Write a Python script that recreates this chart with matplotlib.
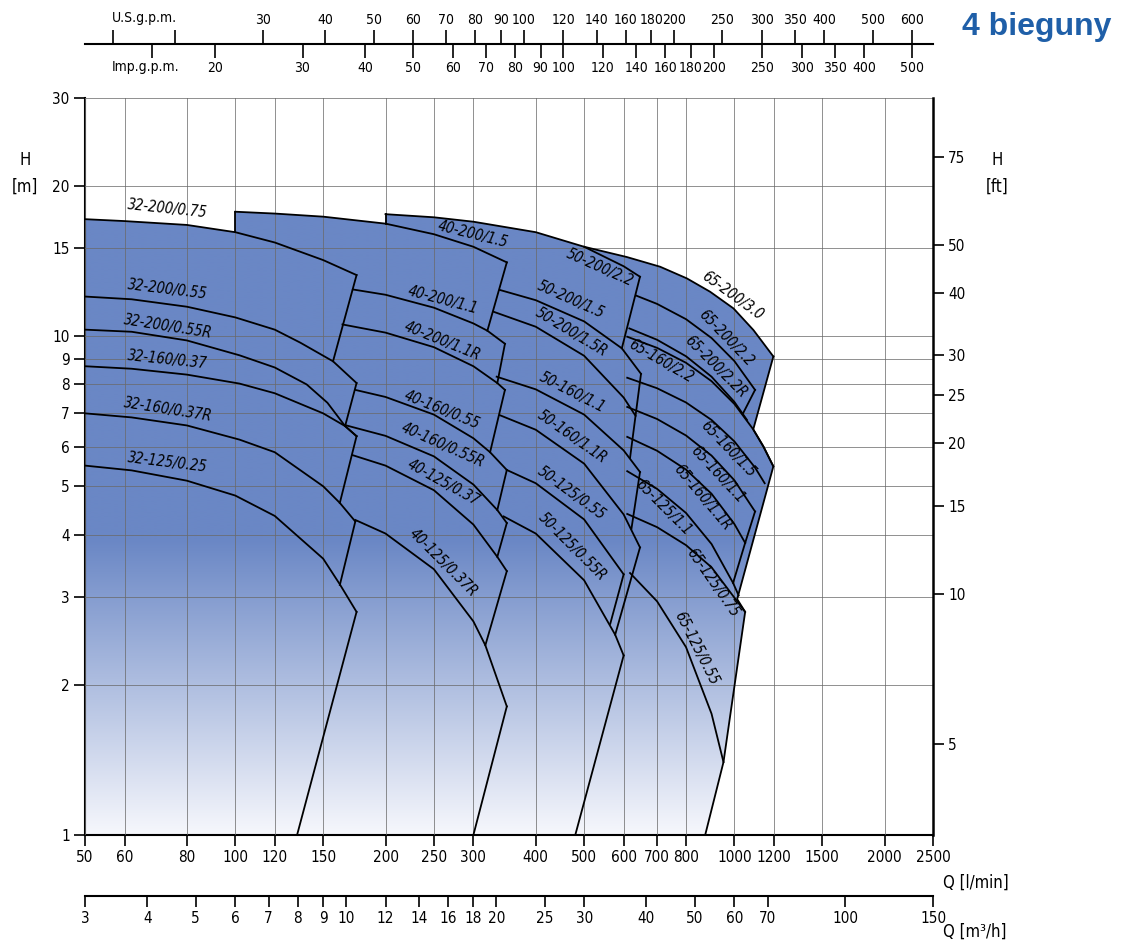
import numpy as np
import matplotlib.pyplot as plt
from matplotlib.patches import Polygon
from matplotlib.ticker import NullLocator

plt.rcParams['font.family'] = ['DejaVu Sans']
plt.rcParams['font.stretch'] = 'condensed'

# ---------------- data: Q [l/min], H [m] ----------------
# family 32
c32_200_075_q = [50, 60, 80, 100, 120, 150, 175]
c32_200_075_h = [17.15, 17.0, 16.7, 16.15, 15.4, 14.2, 13.25]
c32_200_055_q = [50, 62, 80, 100, 120, 135, 157, 175]
c32_200_055_h = [12.0, 11.85, 11.45, 10.9, 10.3, 9.7, 8.9, 8.05]
c32_200_055r_q = [50, 62, 80, 102, 120, 139, 153, 166, 175]
c32_200_055r_h = [10.3, 10.2, 9.8, 9.15, 8.65, 8.0, 7.35, 6.6, 6.3]
c32_160_037_q = [50, 62, 80, 102, 120, 150, 166, 175]
c32_160_037_h = [8.7, 8.6, 8.37, 8.03, 7.68, 7.0, 6.6, 6.3]
c32_160_037r_q = [50, 62, 80, 102, 120, 150, 162, 174]
c32_160_037r_h = [7.0, 6.87, 6.62, 6.2, 5.85, 5.0, 4.63, 4.25]
c32_125_025_q = [50, 62, 80, 100, 120, 150, 162, 175]
c32_125_025_h = [5.5, 5.38, 5.13, 4.79, 4.36, 3.58, 3.18, 2.8]

# family 40
c40_200_15_q = [100, 120, 150, 200, 250, 300, 350]
c40_200_15_h = [17.75, 17.6, 17.35, 16.8, 16.0, 15.1, 14.05]
c40_200_11_q = [172, 200, 250, 300, 320, 347]
c40_200_11_h = [12.4, 12.1, 11.4, 10.6, 10.25, 9.65]
c40_200_11r_q = [164, 200, 250, 300, 335, 347]
c40_200_11r_h = [10.55, 10.16, 9.5, 8.7, 8.05, 7.8]
c40_160_055_q = [174, 200, 250, 300, 324, 350]
c40_160_055_h = [7.8, 7.55, 6.96, 6.24, 5.85, 5.39]
c40_160_055r_q = [166, 200, 250, 300, 335, 350]
c40_160_055r_h = [6.63, 6.31, 5.74, 5.04, 4.48, 4.22]
c40_125_037_q = [172, 200, 250, 300, 335, 350]
c40_125_037_h = [5.77, 5.5, 4.91, 4.19, 3.61, 3.38]
c40_125_037r_q = [174, 200, 250, 300, 317, 350]
c40_125_037r_h = [4.28, 4.02, 3.41, 2.68, 2.4, 1.81]

# family 50
c50_200_22_q = [200, 250, 300, 400, 500, 600, 647]
c50_200_22_h = [17.55, 17.3, 16.95, 16.15, 15.1, 13.8, 13.15]
c50_200_15_q = [339, 400, 500, 595, 650]
c50_200_15_h = [12.37, 11.8, 10.7, 9.45, 8.4]
c50_200_15r_q = [329, 400, 500, 600, 634]
c50_200_15r_h = [11.19, 10.44, 9.13, 7.53, 6.92]
c50_160_11_q = [334, 400, 500, 600, 647]
c50_160_11_h = [8.29, 7.82, 6.96, 5.9, 5.34]
c50_160_11r_q = [339, 400, 500, 600, 647]
c50_160_11r_h = [6.94, 6.49, 5.55, 4.39, 3.77]
c50_125_055_q = [350, 400, 500, 600]
c50_125_055_h = [5.39, 5.07, 4.29, 3.33]
c50_125_055r_q = [345, 400, 500, 577, 600]
c50_125_055r_h = [4.35, 4.02, 3.24, 2.52, 2.29]

# family 65
c65_200_30_q = [500, 609, 710, 803, 894, 996, 1092, 1197]
c65_200_30_h = [15.1, 14.4, 13.77, 13.05, 12.27, 11.36, 10.28, 9.1]
c65_200_22_q = [636, 700, 800, 900, 1000, 1100]
c65_200_22_h = [12.05, 11.6, 10.81, 9.91, 8.91, 7.8]
c65_200_22r_q = [616, 700, 800, 900, 1000, 1060]
c65_200_22r_h = [10.36, 9.83, 9.11, 8.29, 7.38, 6.79]
c65_160_22_q = [610, 700, 800, 900, 1000, 1091, 1144, 1197]
c65_160_22_h = [9.97, 9.47, 8.84, 8.12, 7.31, 6.5, 6.0, 5.48]
c65_160_15_q = [610, 700, 800, 900, 1000, 1100, 1150]
c65_160_15_h = [8.25, 7.86, 7.36, 6.79, 6.15, 5.45, 5.07]
c65_160_11_q = [610, 700, 800, 900, 1000, 1100]
c65_160_11_h = [7.21, 6.82, 6.32, 5.76, 5.14, 4.45]
c65_160_11r_q = [610, 700, 800, 900, 1000, 1051]
c65_160_11r_h = [6.28, 5.89, 5.4, 4.83, 4.2, 3.85]
c65_125_11_q = [610, 700, 800, 900, 994, 1020]
c65_125_11_h = [5.36, 4.94, 4.42, 3.83, 3.2, 3.02]
c65_125_075_q = [610, 700, 800, 900, 1000, 1051]
c65_125_075_h = [4.4, 4.14, 3.81, 3.44, 2.99, 2.8]
c65_125_055_q = [618, 700, 800, 900, 951]
c65_125_055_h = [3.35, 2.94, 2.38, 1.75, 1.40]

# right boundary of the 65 block (after the end of its top curve)
rb65_q = [1091, 1144, 1197, 1013, 1051, 951, 874]
rb65_h = [6.5, 6.0, 5.48, 2.97, 2.8, 1.40, 1.0]

# max-flow edges and box sides
edge_q0 = [175, 175, 175, 174, 175,
           100, 350, 347, 347, 350, 350, 350, 350,
           200, 647, 650, 647, 647, 600, 600,
           1100, 1100, 1051]
edge_q1 = [157, 166, 162, 162, 133,
           100, 320, 335, 324, 335, 335, 317, 300,
           200, 595, 618, 622, 577, 564, 480,
           1040, 1051, 994]
edge_h0 = [13.25, 8.05, 6.3, 4.25, 2.8,
           16.16, 14.05, 9.65, 7.8, 5.39, 4.22, 3.38, 1.81,
           16.8, 13.15, 8.4, 5.34, 3.77, 3.33, 2.29,
           7.8, 4.45, 3.85]
edge_h1 = [8.9, 6.6, 4.63, 3.17, 1.0,
           17.75, 10.25, 8.05, 5.85, 4.48, 3.61, 2.4, 1.0,
           17.55, 9.45, 5.7, 4.11, 2.52, 2.65, 1.0,
           6.99, 3.85, 3.2]

# curve labels: text, Q, H, angle
lab_text = ['32-200/0.75', '32-200/0.55', '32-200/0.55R', '32-160/0.37', '32-160/0.37R', '32-125/0.25',
            '40-200/1.5', '40-200/1.1', '40-200/1.1R', '40-160/0.55', '40-160/0.55R', '40-125/0.37',
            '40-125/0.37R',
            '50-200/2.2', '50-200/1.5', '50-200/1.5R', '50-160/1.1', '50-160/1.1R', '50-125/0.55',
            '50-125/0.55R',
            '65-200/3.0', '65-200/2.2', '65-200/2.2R', '65-160/2.2', '65-160/1.5', '65-160/1.1',
            '65-160/1.1R', '65-125/1.1', '65-125/0.75', '65-125/0.55']
lab_q = [73.3, 73.3, 73.3, 73.3, 73.3, 73.3,
         300, 261, 260, 260, 261, 261, 261,
         538, 471, 471, 473, 473, 471, 473,
         990, 963, 919, 713, 972, 924, 862, 720, 903, 838]
lab_h = [17.97, 12.42, 10.47, 8.95, 7.11, 5.57,
         16.01, 11.81, 9.77, 7.11, 6.05, 5.08, 3.51,
         13.69, 11.81, 10.19, 7.72, 6.28, 4.85, 3.78,
         12.03, 9.91, 8.67, 8.91, 5.94, 5.27, 4.74, 4.54, 3.21, 2.37]
lab_rot = [-6, -7, -9, -6, -9, -7,
           -14, -15, -22, -22, -24, -29, -45,
           -24, -24, -31, -27, -35, -36, -45,
           -36, -46, -45, -30, -46, -47, -50, -45, -55, -63]

# axis ticks
q_ticks = [50, 60, 80, 100, 120, 150, 200, 250, 300, 400, 500, 600, 700, 800, 1000, 1200, 1500, 2000, 2500]
h_ticks = [1, 2, 3, 4, 5, 6, 7, 8, 9, 10, 15, 20, 30]
ft_ticks = [5, 10, 15, 20, 25, 30, 40, 50, 75]
m3h_ticks = [3, 4, 5, 6, 7, 8, 9, 10, 12, 14, 16, 18, 20, 25, 30, 40, 50, 60, 70, 100, 150]
us_ticks = [15, 20, 30, 40, 50, 60, 70, 80, 90, 100, 120, 140, 160, 180, 200, 250, 300, 350, 400, 500, 600]
imp_ticks = [15, 20, 30, 40, 50, 60, 70, 80, 90, 100, 120, 140, 160, 180, 200, 250, 300, 350, 400, 500]

curves = [
    (c32_200_075_q, c32_200_075_h), (c32_200_055_q, c32_200_055_h), (c32_200_055r_q, c32_200_055r_h),
    (c32_160_037_q, c32_160_037_h), (c32_160_037r_q, c32_160_037r_h), (c32_125_025_q, c32_125_025_h),
    (c40_200_15_q, c40_200_15_h), (c40_200_11_q, c40_200_11_h), (c40_200_11r_q, c40_200_11r_h),
    (c40_160_055_q, c40_160_055_h), (c40_160_055r_q, c40_160_055r_h), (c40_125_037_q, c40_125_037_h),
    (c40_125_037r_q, c40_125_037r_h),
    (c50_200_22_q, c50_200_22_h), (c50_200_15_q, c50_200_15_h), (c50_200_15r_q, c50_200_15r_h),
    (c50_160_11_q, c50_160_11_h), (c50_160_11r_q, c50_160_11r_h), (c50_125_055_q, c50_125_055_h),
    (c50_125_055r_q, c50_125_055r_h),
    (c65_200_30_q, c65_200_30_h), (c65_200_22_q, c65_200_22_h), (c65_200_22r_q, c65_200_22r_h),
    (c65_160_22_q, c65_160_22_h), (c65_160_15_q, c65_160_15_h), (c65_160_11_q, c65_160_11_h),
    (c65_160_11r_q, c65_160_11r_h), (c65_125_11_q, c65_125_11_h), (c65_125_075_q, c65_125_075_h),
    (c65_125_055_q, c65_125_055_h),
]

BLUE = np.array([106, 135, 197]) / 255
PALE = np.array([246, 247, 252]) / 255
LINE_W = 1.3
TICK_FS = 11
TOP_FS = 10

fig = plt.figure(figsize=(11.25, 9.41), dpi=100)
L, R = 85 / 1125, 933 / 1125
B, T = 1 - 835 / 941, 1 - 98 / 941
ax = fig.add_axes([L, B, R - L, T - B])
ax.set_xscale('log')
ax.set_yscale('log')

# gradient fill of the working areas
t = np.clip(np.linspace(0, 1, 400) / 0.40, 0, 1)[:, None]
grad = (PALE[None, :] * (1 - t) + BLUE[None, :] * t)[:, None, :]

blocks = [
    [(50, 1)] + list(zip(c32_200_075_q, c32_200_075_h)) + [(175, 1)],
    [(100, 1)] + list(zip(c40_200_15_q, c40_200_15_h)) + [(350, 1)],
    [(200, 1)] + list(zip(c50_200_22_q, c50_200_22_h)) + [(647, 1)],
    [(500, 1)] + list(zip(c65_200_30_q, c65_200_30_h)) + list(zip(rb65_q, rb65_h)),
]
for verts in blocks:
    poly = Polygon(verts, closed=True, facecolor='none', edgecolor='none', transform=ax.transData)
    ax.add_patch(poly)
    im = ax.imshow(grad, extent=(0, 1, 0, 1), transform=ax.transAxes, origin='lower',
                   aspect='auto', interpolation='bilinear', zorder=1)
    im.set_clip_path(poly)

for q, h in curves:
    ax.plot(q, h, color='black', lw=LINE_W, zorder=3, solid_joinstyle='round')
for i in range(len(edge_q0)):
    ax.plot([edge_q0[i], edge_q1[i]], [edge_h0[i], edge_h1[i]], color='black', lw=LINE_W, zorder=3)
ax.plot([c65_200_30_q[-1]] + rb65_q, [c65_200_30_h[-1]] + rb65_h, color='black', lw=LINE_W, zorder=3)

for s, q, h, r in zip(lab_text, lab_q, lab_h, lab_rot):
    ax.text(q, h, s, rotation=r, rotation_mode='anchor', ha='center', va='center',
            fontsize=10.5, style='italic', zorder=4)

ax.set_xlim(50, 2500)
ax.set_ylim(1, 30)
ax.set_xticks(q_ticks)
ax.set_xticklabels([str(v) for v in q_ticks])
ax.set_yticks(h_ticks)
ax.set_yticklabels([str(v) for v in h_ticks])
ax.xaxis.set_minor_locator(NullLocator())
ax.yaxis.set_minor_locator(NullLocator())
ax.tick_params(axis='both', direction='out', length=8, width=1.2, labelsize=TICK_FS, pad=3)
ax.grid(True, color='#6a6a6a', lw=0.7, alpha=0.75)
ax.set_axisbelow(False)
for s in ['left', 'bottom']:
    ax.spines[s].set_linewidth(1.5)
ax.spines['top'].set_visible(False)
ax.spines['right'].set_visible(False)

# feet axis on the right
ax2 = ax.twinx()
ax2.set_yscale('log')
ax2.set_ylim(1 / 0.3048, 30 / 0.3048)
ax2.set_yticks(ft_ticks)
ax2.set_yticklabels([str(v) for v in ft_ticks])
ax2.yaxis.set_minor_locator(NullLocator())
ax2.tick_params(axis='y', direction='out', length=8, width=1.2, labelsize=TICK_FS, pad=3)
ax2.spines['right'].set_linewidth(1.8)
for s in ['top', 'left', 'bottom']:
    ax2.spines[s].set_visible(False)

# m3/h axis at the bottom
axm = fig.add_axes([L, 1 - 896 / 941, R - L, 0.0001])
axm.set_xscale('log')
axm.set_xlim(3, 150)
axm.set_xticks(m3h_ticks)
axm.set_xticklabels([str(v) for v in m3h_ticks])
axm.xaxis.set_minor_locator(NullLocator())
axm.set_yticks([])
axm.tick_params(axis='x', direction='out', length=8, width=1.2, labelsize=TICK_FS, pad=3)
for s in ['top', 'left', 'right']:
    axm.spines[s].set_visible(False)
axm.spines['bottom'].set_linewidth(1.5)
axm.patch.set_visible(False)

# gallons axes at the top
axu = fig.add_axes([L, 1 - 44 / 941, R - L, 0.0001])
axu.set_xscale('log')
axu.set_xlim(50 / 3.78541, 2500 / 3.78541)
axu.xaxis.tick_top()
axu.set_xticks(us_ticks)
axu.set_xticklabels(['', ''] + [str(v) for v in us_ticks[2:]])
axu.xaxis.set_minor_locator(NullLocator())
axu.set_yticks([])
axu.tick_params(axis='x', direction='out', length=10, width=1.2, labelsize=TOP_FS, pad=2)
for s in ['bottom', 'left', 'right']:
    axu.spines[s].set_visible(False)
axu.spines['top'].set_linewidth(1.5)
axu.patch.set_visible(False)

axi = fig.add_axes([L, 1 - 44 / 941, R - L, 0.0001])
axi.set_xscale('log')
axi.set_xlim(50 / 4.54609, 2500 / 4.54609)
axi.set_xticks(imp_ticks)
axi.set_xticklabels([''] + [str(v) for v in imp_ticks[1:]])
axi.xaxis.set_minor_locator(NullLocator())
axi.set_yticks([])
axi.tick_params(axis='x', direction='out', length=10, width=1.2, labelsize=TOP_FS, pad=2)
for s in ['top', 'left', 'right', 'bottom']:
    axi.spines[s].set_visible(False)
axi.patch.set_visible(False)

fig.text(112 / 1125, 1 - 18 / 941, 'U.S.g.p.m.', fontsize=TOP_FS, ha='left', va='center')
fig.text(112 / 1125, 1 - 67 / 941, 'Imp.g.p.m.', fontsize=TOP_FS, ha='left', va='center')
fig.text(25 / 1125, 1 - 160 / 941, 'H', fontsize=12, ha='center', va='center')
fig.text(25 / 1125, 1 - 187 / 941, '[m]', fontsize=12, ha='center', va='center')
fig.text(997 / 1125, 1 - 160 / 941, 'H', fontsize=12, ha='center', va='center')
fig.text(997 / 1125, 1 - 187 / 941, '[ft]', fontsize=12, ha='center', va='center')
fig.text(943 / 1125, 1 - 883 / 941, 'Q [l/min]', fontsize=12, ha='left', va='center')
fig.text(943 / 1125, 1 - 932 / 941, 'Q [m\u00b3/h]', fontsize=12, ha='left', va='center')
fig.text(1037 / 1125, 1 - 27 / 941, '4 bieguny', fontsize=23, fontweight='bold', color='#1f5fa8',
         ha='center', va='center', family=['Liberation Sans', 'DejaVu Sans'], stretch='normal')

fig.savefig('out.png', dpi=100)
